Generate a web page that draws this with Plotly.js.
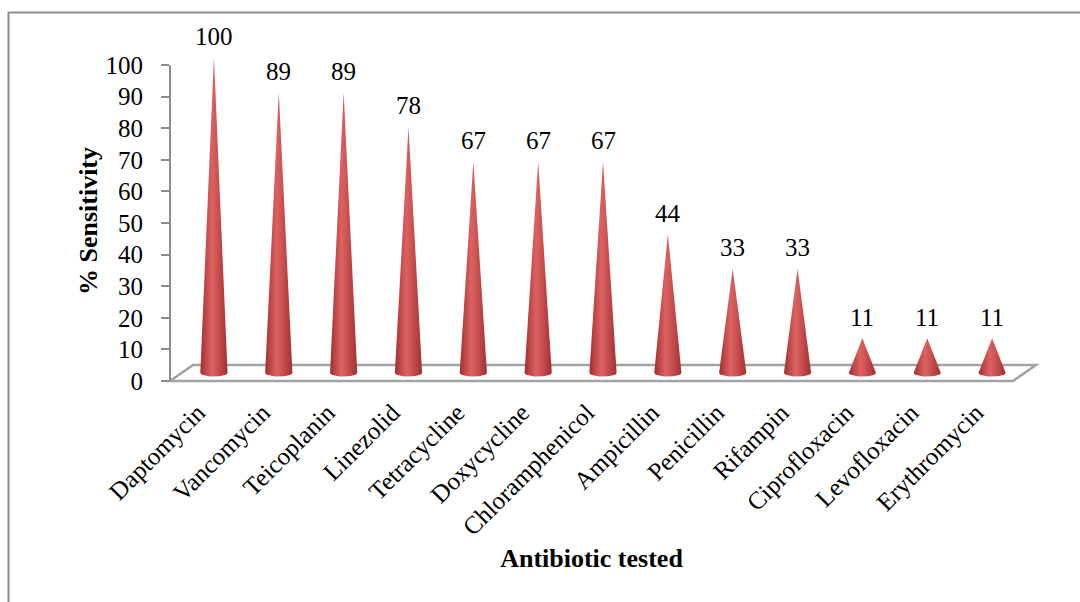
<!DOCTYPE html>
<html><head><meta charset="utf-8">
<script src="https://cdn.plot.ly/plotly-3.0.1.min.js"></script>
<style>html,body{margin:0;padding:0;background:#fff;}#chart{width:1080px;height:602px;}</style>
</head><body><div id="chart"></div>
<script>
// ---- data ----
const categories = ["Daptomycin","Vancomycin","Teicoplanin","Linezolid","Tetracycline","Doxycycline","Chloramphenicol","Ampicillin","Penicillin","Rifampin","Ciprofloxacin","Levofloxacin","Erythromycin"];
const sensitivity = [100, 89, 89, 78, 67, 67, 67, 44, 33, 33, 11, 11, 11];
const yTickValues = [0, 10, 20, 30, 40, 50, 60, 70, 80, 90, 100];
const yTickLabels = ["0","10","20","30","40","50","60","70","80","90","100"];

// ---- geometry (axis units) ----
const X_MIN = -0.5, X_MAX = 12.5, Y_MIN = -1.6, Y_MAX = 102.9;
const DEPTH_Y = 5.06, DEPTH_X = 0.355;      // floor depth offset
const MID_Y = DEPTH_Y / 2, MID_X = DEPTH_X / 2;
const HALF_W = 0.21, ELL_B = 1.15;
const LABEL_GAP = 6.6;
const SERIF = '"Liberation Serif", "Times New Roman", serif';

const px = x => (x - X_MIN) / (X_MAX - X_MIN);
const py = y => (y - Y_MIN) / (Y_MAX - Y_MIN);

const coneScale = [[0,'#9c2f2f'],[0.22,'#c44a4a'],[0.42,'#dc6262'],[0.6,'#cf5454'],[0.85,'#b43d3d'],[1,'#9e3131']];

const traces = [];
categories.forEach((c, i) => {
  const cx = i + MID_X, base = MID_Y, top = base + sensitivity[i];
  const xs = [cx - HALF_W, cx, cx + HALF_W];
  const ys = [base, top, base];
  const N = 24;
  for (let k = 1; k < N; k++) {
    const t = Math.PI * k / N;
    xs.push(cx + HALF_W * Math.cos(t));
    ys.push(base - ELL_B * Math.sin(t));
  }
  xs.push(cx - HALF_W); ys.push(base);
  traces.push({
    type: 'scatter', mode: 'lines', x: xs, y: ys, fill: 'toself',
    line: {width: 0, color: 'rgba(0,0,0,0)'},
    fillgradient: {type: 'horizontal', colorscale: coneScale},
    hoverinfo: 'skip', showlegend: false, name: c
  });
});

// value labels (annotations so the 100 label above the axis range is still drawn)
const annotations = categories.map((c, i) => ({
  xref: 'x', yref: 'paper', x: i + MID_X, y: py(sensitivity[i] + MID_Y + LABEL_GAP),
  text: String(sensitivity[i]), showarrow: false, xanchor: 'center', yanchor: 'middle',
  font: {family: SERIF, size: 25, color: '#000'}
}));

const floorColor = '#a3a3a3';
const shapes = [
  // outer frame
  {type: 'rect', xref: 'paper', yref: 'paper', x0: (8.5 - 170) / 843, x1: 2, y0: -2, y1: (386 - 12.5) / 330,
   line: {color: '#8c8c8c', width: 2}, fillcolor: 'rgba(0,0,0,0)', layer: 'below'},
  // floor
  {type: 'path', xref: 'paper', yref: 'paper', layer: 'below',
   path: `M${px(X_MIN)},${py(0)} L${px(X_MAX)},${py(0)} L${px(X_MAX + DEPTH_X)},${py(DEPTH_Y)} L${px(X_MIN + DEPTH_X)},${py(DEPTH_Y)} Z`,
   line: {color: floorColor, width: 2.5}, fillcolor: 'rgba(0,0,0,0)'},
  // value axis line
  {type: 'line', xref: 'paper', yref: 'paper', x0: 0, x1: 0, y0: py(0), y1: py(100),
   line: {color: '#8c8c8c', width: 2}, layer: 'below'}
];

const layout = {
  width: 1080, height: 602,
  margin: {l: 170, r: 67, t: 56, b: 216},
  paper_bgcolor: '#fff', plot_bgcolor: 'rgba(0,0,0,0)',
  font: {family: SERIF, color: '#000', size: 25},
  showlegend: false,
  xaxis: {
    range: [X_MIN, X_MAX], showgrid: false, zeroline: false, showline: false,
    tickmode: 'array', tickvals: categories.map((c, i) => i - 0.07), ticktext: categories,
    tickangle: -45, ticks: '', ticklabelstandoff: 6,
    tickfont: {family: SERIF, size: 25, color: '#000'},
    title: {text: '<b>Antibiotic tested</b>', font: {family: SERIF, size: 26, color: '#000'}, standoff: 9},
    fixedrange: true
  },
  yaxis: {
    range: [Y_MIN, Y_MAX], showgrid: false, zeroline: false, showline: false,
    tickmode: 'array', tickvals: yTickValues, ticktext: yTickLabels,
    ticks: 'outside', ticklen: 8, tickwidth: 2, tickcolor: '#8c8c8c',
    ticklabelstandoff: 13,
    tickfont: {family: SERIF, size: 25, color: '#000'},
    title: {text: '<b>% Sensitivity</b>', font: {family: SERIF, size: 26, color: '#000'}, standoff: 0},
    fixedrange: true
  },
  annotations: annotations,
  shapes: shapes
};

Plotly.newPlot('chart', traces, layout, {displayModeBar: false, staticPlot: true});
</script>
</body></html>
